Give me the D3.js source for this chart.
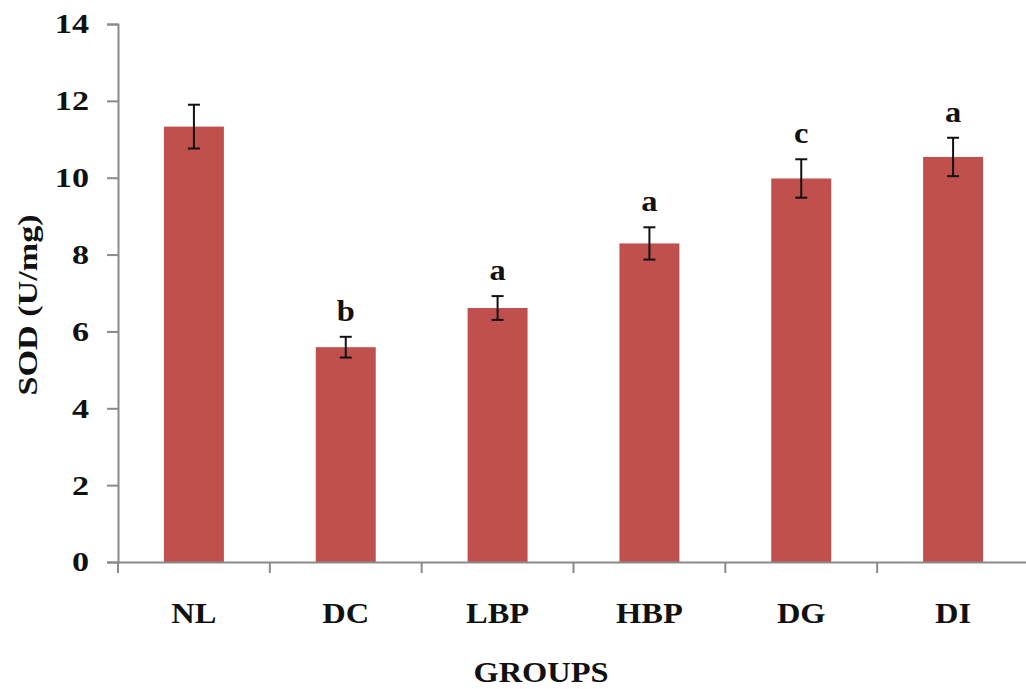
<!DOCTYPE html>
<html>
<head>
<meta charset="utf-8">
<script src="https://cdn.jsdelivr.net/npm/d3@7"></script>
<style>
  body { margin: 0; background: #fff; }
  text { font-family: "Liberation Serif", "Times New Roman", serif; font-weight: bold; fill: #111; }
</style>
</head>
<body>
<div class="BarChart"></div>
<script>
// chart data
const groups = ["NL", "DC", "LBP", "HBP", "DG", "DI"];
const sodValues = [11.33, 5.59, 6.61, 8.29, 9.98, 10.54];
const sodErrors = [0.57, 0.27, 0.31, 0.42, 0.5, 0.5];
const sigLetters = ["", "b", "a", "a", "c", "a"];
const yTicks = [0, 2, 4, 6, 8, 10, 12, 14];

function createBarChart() {
  const svgWidth = 1026;
  const svgHeight = 689;

  const svg = d3
    .select(".BarChart")
    .append("svg")
    .attr("width", svgWidth)
    .attr("height", svgHeight);

  const xScale = d3
    .scaleBand()
    .domain(groups)
    .range([118, 1029])
    .paddingInner(0.605)
    .paddingOuter(0.3025);

  const yScale = d3.scaleLinear().domain([0, 14]).range([562, 24]);

  const axisColor = "#8a8a8a";
  // the original font is a bit wider than Liberation Serif
  const wideY = 1.22;
  const wideX = 1.12;

  // bars
  svg
    .selectAll(".bar")
    .data(groups)
    .enter()
    .append("rect")
    .attr("class", "bar")
    .attr("x", (d) => xScale(d))
    .attr("y", (d, i) => yScale(sodValues[i]))
    .attr("width", xScale.bandwidth())
    .attr("height", (d, i) => yScale(0) - yScale(sodValues[i]))
    .attr("fill", "#c0504d");

  // error bars
  const cap = 6;
  groups.forEach((g, i) => {
    const cx = xScale(g) + xScale.bandwidth() / 2;
    const top = yScale(sodValues[i] + sodErrors[i]);
    const bottom = yScale(sodValues[i] - sodErrors[i]);
    const eb = svg.append("g").attr("stroke", "#111").attr("stroke-width", 2);
    eb.append("line").attr("x1", cx).attr("x2", cx).attr("y1", top).attr("y2", bottom);
    eb.append("line").attr("x1", cx - cap).attr("x2", cx + cap).attr("y1", top).attr("y2", top);
    eb.append("line").attr("x1", cx - cap).attr("x2", cx + cap).attr("y1", bottom).attr("y2", bottom);

    // significance letters
    if (sigLetters[i]) {
      svg
        .append("text")
        .attr("transform", `translate(${cx},${top - 16}) scale(${wideX},1)`)
        .attr("text-anchor", "middle")
        .style("font-size", "29px")
        .text(sigLetters[i]);
    }
  });

  // Y axis
  const yAxis = svg
    .append("g")
    .attr("transform", "translate(118,0)")
    .call(d3.axisLeft(yScale).tickValues(yTicks).tickSize(11).tickPadding(18));
  yAxis.select(".domain").attr("stroke", axisColor).attr("stroke-width", 2);
  yAxis.selectAll(".tick line").attr("stroke", axisColor).attr("stroke-width", 2);
  yAxis.selectAll(".tick text")
    .attr("x", -29 / wideY)
    .attr("transform", `scale(${wideY},1)`)
    .style("font-size", "28px")
    .attr("font-family", null)
    .attr("fill", "#111");

  // X axis
  const xAxis = svg
    .append("g")
    .attr("transform", `translate(0,${yScale(0)})`)
    .call(d3.axisBottom(xScale).tickSize(0).tickPadding(40));
  xAxis.select(".domain").attr("stroke", axisColor).attr("stroke-width", 2);
  xAxis.selectAll(".tick text")
    .attr("transform", `scale(${wideX},1)`)
    .style("font-size", "29px")
    .attr("font-family", null)
    .attr("fill", "#111");

  // category boundary ticks
  const step = xScale.step();
  const bounds = d3.range(groups.length + 1).map((k) => xScale.range()[0] + k * step);
  xAxis
    .selectAll(".bound")
    .data(bounds)
    .enter()
    .append("line")
    .attr("x1", (d) => d)
    .attr("x2", (d) => d)
    .attr("y1", 0)
    .attr("y2", 11)
    .attr("stroke", axisColor)
    .attr("stroke-width", 2);

  // axis titles
  svg
    .append("text")
    .attr("transform", `translate(541,682) scale(${wideX},1)`)
    .attr("text-anchor", "middle")
    .style("font-size", "29px")
    .text("GROUPS");

  svg
    .append("text")
    .attr("transform", `translate(37,305) rotate(-90) scale(${wideY},1)`)
    .attr("text-anchor", "middle")
    .style("font-size", "28px")
    .text("SOD (U/mg)");
}

createBarChart();
</script>
</body>
</html>
